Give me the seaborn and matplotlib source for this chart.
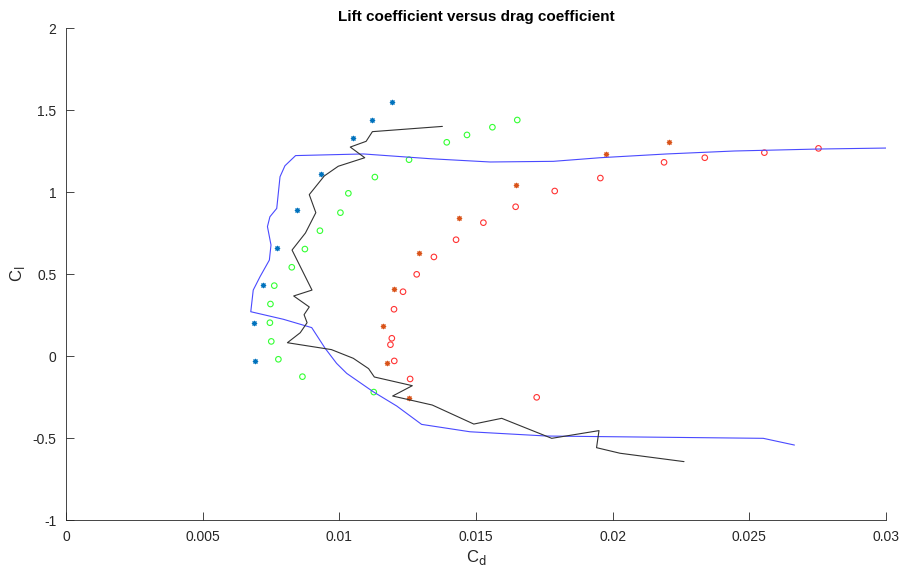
import matplotlib
matplotlib.use("Agg")
import matplotlib.pyplot as plt
import seaborn as sns
import numpy as np
from matplotlib.ticker import FuncFormatter

# ---- data ----
blue_star_cd = [0.01193, 0.01121, 0.01049, 0.00932, 0.00845, 0.00773, 0.00720, 0.00687, 0.00691]
blue_star_cl = [1.55, 1.44, 1.33, 1.11, 0.89, 0.66, 0.43, 0.20, -0.03]

green_cd = [0.01651, 0.01560, 0.01467, 0.01393, 0.01255, 0.01130, 0.01033, 0.01004, 0.00929,
            0.00874, 0.00826, 0.00762, 0.00748, 0.00746, 0.00751, 0.00777, 0.00865, 0.01126]
green_cl = [1.439, 1.395, 1.348, 1.303, 1.197, 1.091, 0.992, 0.874, 0.764,
            0.652, 0.541, 0.429, 0.317, 0.203, 0.089, -0.02, -0.126, -0.22]

red_cd = [0.02753, 0.02555, 0.02337, 0.02188, 0.01955, 0.01788, 0.01645, 0.01527, 0.01427,
          0.01346, 0.01283, 0.01233, 0.01200, 0.01192, 0.01187, 0.01201, 0.01259, 0.01722]
red_cl = [1.266, 1.240, 1.209, 1.181, 1.085, 1.006, 0.910, 0.813, 0.709,
          0.604, 0.498, 0.392, 0.285, 0.108, 0.069, -0.03, -0.14, -0.252]

orange_star_cd = [0.02206, 0.01977, 0.01646, 0.01439, 0.01293, 0.01200, 0.01161, 0.01176, 0.01254]
orange_star_cl = [1.307, 1.230, 1.043, 0.841, 0.628, 0.407, 0.185, -0.04, -0.256]

black_cd = [0.01377, 0.01121, 0.01098, 0.01040, 0.01093, 0.00996, 0.00945, 0.00890, 0.00914,
            0.00876, 0.00827, 0.00900, 0.00833, 0.00890, 0.00871, 0.00882, 0.00857, 0.00810,
            0.00971, 0.01051, 0.01107, 0.01128, 0.01267, 0.01195, 0.01340, 0.01492, 0.01594,
            0.01777, 0.01950, 0.01941, 0.02027, 0.02261]
black_cl = [1.400, 1.368, 1.309, 1.274, 1.209, 1.157, 1.098, 0.984, 0.874,
            0.750, 0.646, 0.402, 0.366, 0.299, 0.252, 0.203, 0.142, 0.081,
            0.039, -0.014, -0.077, -0.128, -0.181, -0.244, -0.299, -0.415, -0.380,
            -0.502, -0.455, -0.559, -0.593, -0.644]

blue_cd = [0.03000, 0.02753, 0.02445, 0.02198, 0.01954, 0.01783, 0.01552, 0.01332, 0.01088,
           0.00840, 0.00801, 0.00783, 0.00771, 0.00746, 0.00737, 0.00750, 0.00744, 0.00710,
           0.00685, 0.00676, 0.00795, 0.00899, 0.00948, 0.00990, 0.01027, 0.01124, 0.01210,
           0.01301, 0.01478, 0.01759, 0.02551, 0.02665]
blue_cl = [1.268, 1.262, 1.250, 1.232, 1.209, 1.187, 1.183, 1.203, 1.232,
           1.222, 1.160, 1.093, 0.900, 0.849, 0.789, 0.677, 0.585, 0.484,
           0.402, 0.270, 0.224, 0.173, 0.047, -0.045, -0.106, -0.218, -0.305,
           -0.417, -0.462, -0.488, -0.502, -0.543]

x_ticks = [0, 0.005, 0.01, 0.015, 0.02, 0.025, 0.03]
y_ticks = [-1, -0.5, 0, 0.5, 1, 1.5, 2]

# ---- style ----
sns.set_theme(style="ticks")
plt.rcParams['font.family'] = ['Liberation Sans', 'DejaVu Sans']

fig = plt.figure(figsize=(9.04, 5.72), dpi=100)
ax = fig.add_axes([66/904, 1-520/572, 820/904, 492/572])

sns.lineplot(x=blue_cd, y=blue_cl, sort=False, estimator=None, color='#4a4aff', lw=0.8, ax=ax)
sns.lineplot(x=black_cd, y=black_cl, sort=False, estimator=None, color='#333333', lw=0.8, ax=ax)

sns.scatterplot(x=blue_star_cd, y=blue_star_cl, marker=(8, 2, 0), color='#0072BD',
                edgecolor='#0072BD', linewidth=0.8, s=10, ax=ax)
sns.scatterplot(x=orange_star_cd, y=orange_star_cl, marker=(8, 2, 0), color='#D95319',
                edgecolor='#D95319', linewidth=0.8, s=10, ax=ax)
sns.scatterplot(x=green_cd, y=green_cl, marker='o', facecolor='none', edgecolor='#33ff33',
                linewidth=0.8, s=16, ax=ax)
sns.scatterplot(x=red_cd, y=red_cl, marker='o', facecolor='none', edgecolor='#ff3333',
                linewidth=0.8, s=16, ax=ax)

ax.set_xlim(0, 0.03)
ax.set_ylim(-1, 2)
ax.set_xticks(x_ticks)
ax.set_yticks(y_ticks)
ax.xaxis.set_major_formatter(FuncFormatter(lambda v, p: f"{v:g}"))
ax.yaxis.set_major_formatter(FuncFormatter(lambda v, p: f"{v:g}"))

for s in ['top', 'right']:
    ax.spines[s].set_visible(False)
for s in ['left', 'bottom']:
    ax.spines[s].set_color('#262626')
    ax.spines[s].set_linewidth(0.6)
ax.tick_params(direction='in', length=6, width=0.6, color='#262626', labelcolor='#262626',
               labelsize=10, pad=7)

ax.set_xlabel(r'C$_\mathrm{d}$', fontsize=12, color='#262626', labelpad=3)
ax.set_ylabel(r'C$_\mathrm{l}$', fontsize=12, color='#262626', labelpad=4)
ax.set_title('Lift coefficient versus drag coefficient', fontsize=11, fontweight='bold',
             color='black', pad=5)

fig.savefig('out.png', dpi=100)
